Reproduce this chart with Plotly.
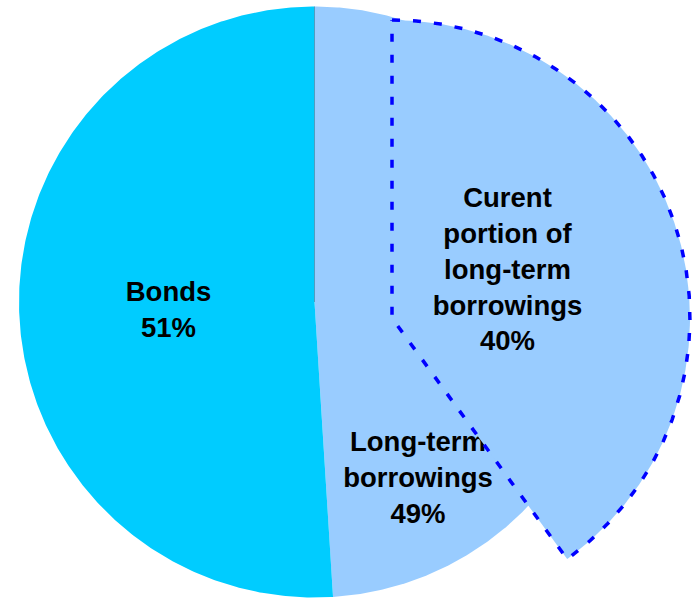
import numpy as np
import plotly.graph_objects as go

# Composition of borrowings (percent of total)
labels = ["Bonds", "Long-term borrowings"]
shares = [51, 49]
label_lines = [["Bonds"], ["Long-term", "borrowings"]]

current_lines = ["Curent", "portion of", "long-term", "borrowings"]
current_share = 40

BONDS_COLOR = "#00CCFF"
LOANS_COLOR = "#99CCFF"
EDGE_COLOR = "#0000FF"

W, H = 692, 599
CX, CY, R = 314.5, 302.0, 295.5          # main pie
EX, EY, ER = 392.0, 318.0, 298.0         # detached wedge (current portion)


def wedge(cx, cy, r, a0, a1, n=400):
    """Closed polygon for a pie sector; angles in degrees, clockwise from 12 o'clock."""
    t = np.radians(np.linspace(a0, a1, n))
    xs = np.concatenate([[cx], cx + r * np.sin(t), [cx]])
    ys = np.concatenate([[cy], cy - r * np.cos(t), [cy]])
    return xs, ys


def arc_top_first(cx, cy, r, a0, a1, n=400):
    """Sector outline that starts at the arc's first point."""
    t = np.radians(np.linspace(a0, a1, n))
    xs = np.concatenate([cx + r * np.sin(t), [cx], [cx + r * np.sin(t[0])]])
    ys = np.concatenate([cy - r * np.cos(t), [cy], [cy - r * np.cos(t[0])]])
    return xs, ys


fig = go.Figure()

# main pie: long-term borrowings clockwise from 12 o'clock, then bonds
loan_end = shares[1] / 100 * 360
x, y = wedge(CX, CY, R, 0, loan_end)
fig.add_trace(go.Scatter(x=x, y=y, mode="lines", fill="toself", fillcolor=LOANS_COLOR,
                         line=dict(width=0), hoverinfo="skip"))
x, y = wedge(CX, CY, R, loan_end, 360)
fig.add_trace(go.Scatter(x=x, y=y, mode="lines", fill="toself", fillcolor=BONDS_COLOR,
                         line=dict(width=0), hoverinfo="skip"))
# thin separator at 12 o'clock
fig.add_trace(go.Scatter(x=[CX, CX], y=[CY, CY - R], mode="lines",
                         line=dict(color="rgba(60,110,140,0.55)", width=1), hoverinfo="skip"))

font = dict(family="Liberation Sans, Arial, sans-serif", size=27.5, color="black", weight="bold")

# slice labels of the main pie
fig.add_trace(go.Scatter(x=[168.5], y=[312],
                         text=["<br>".join(label_lines[0] + [f"{shares[0]}%"])],
                         mode="text", textposition="middle center", textfont=font,
                         hoverinfo="skip"))
fig.add_trace(go.Scatter(x=[418], y=[480],
                         text=["<br>".join(label_lines[1] + [f"{shares[1]}%"])],
                         mode="text", textposition="middle center", textfont=font,
                         hoverinfo="skip"))

# detached wedge for the current portion, outlined with a dashed edge
x, y = arc_top_first(EX, EY, ER, 0, current_share / 100 * 360)
fig.add_trace(go.Scatter(x=x, y=y, mode="lines", fill="toself", fillcolor=LOANS_COLOR,
                         line=dict(color=EDGE_COLOR, width=3.5, dash="8px,13px"),
                         hoverinfo="skip"))
fig.add_trace(go.Scatter(x=[507.5], y=[272],
                         text=["<br>".join(current_lines + [f"{current_share}%"])],
                         mode="text", textposition="middle center", textfont=font,
                         hoverinfo="skip"))

fig.update_layout(
    width=W, height=H,
    margin=dict(l=0, r=0, t=0, b=0),
    paper_bgcolor="white", plot_bgcolor="white",
    showlegend=False,
    xaxis=dict(range=[0, W], visible=False, fixedrange=True),
    yaxis=dict(range=[H, 0], visible=False, fixedrange=True),
)

fig.write_html("out.html")
